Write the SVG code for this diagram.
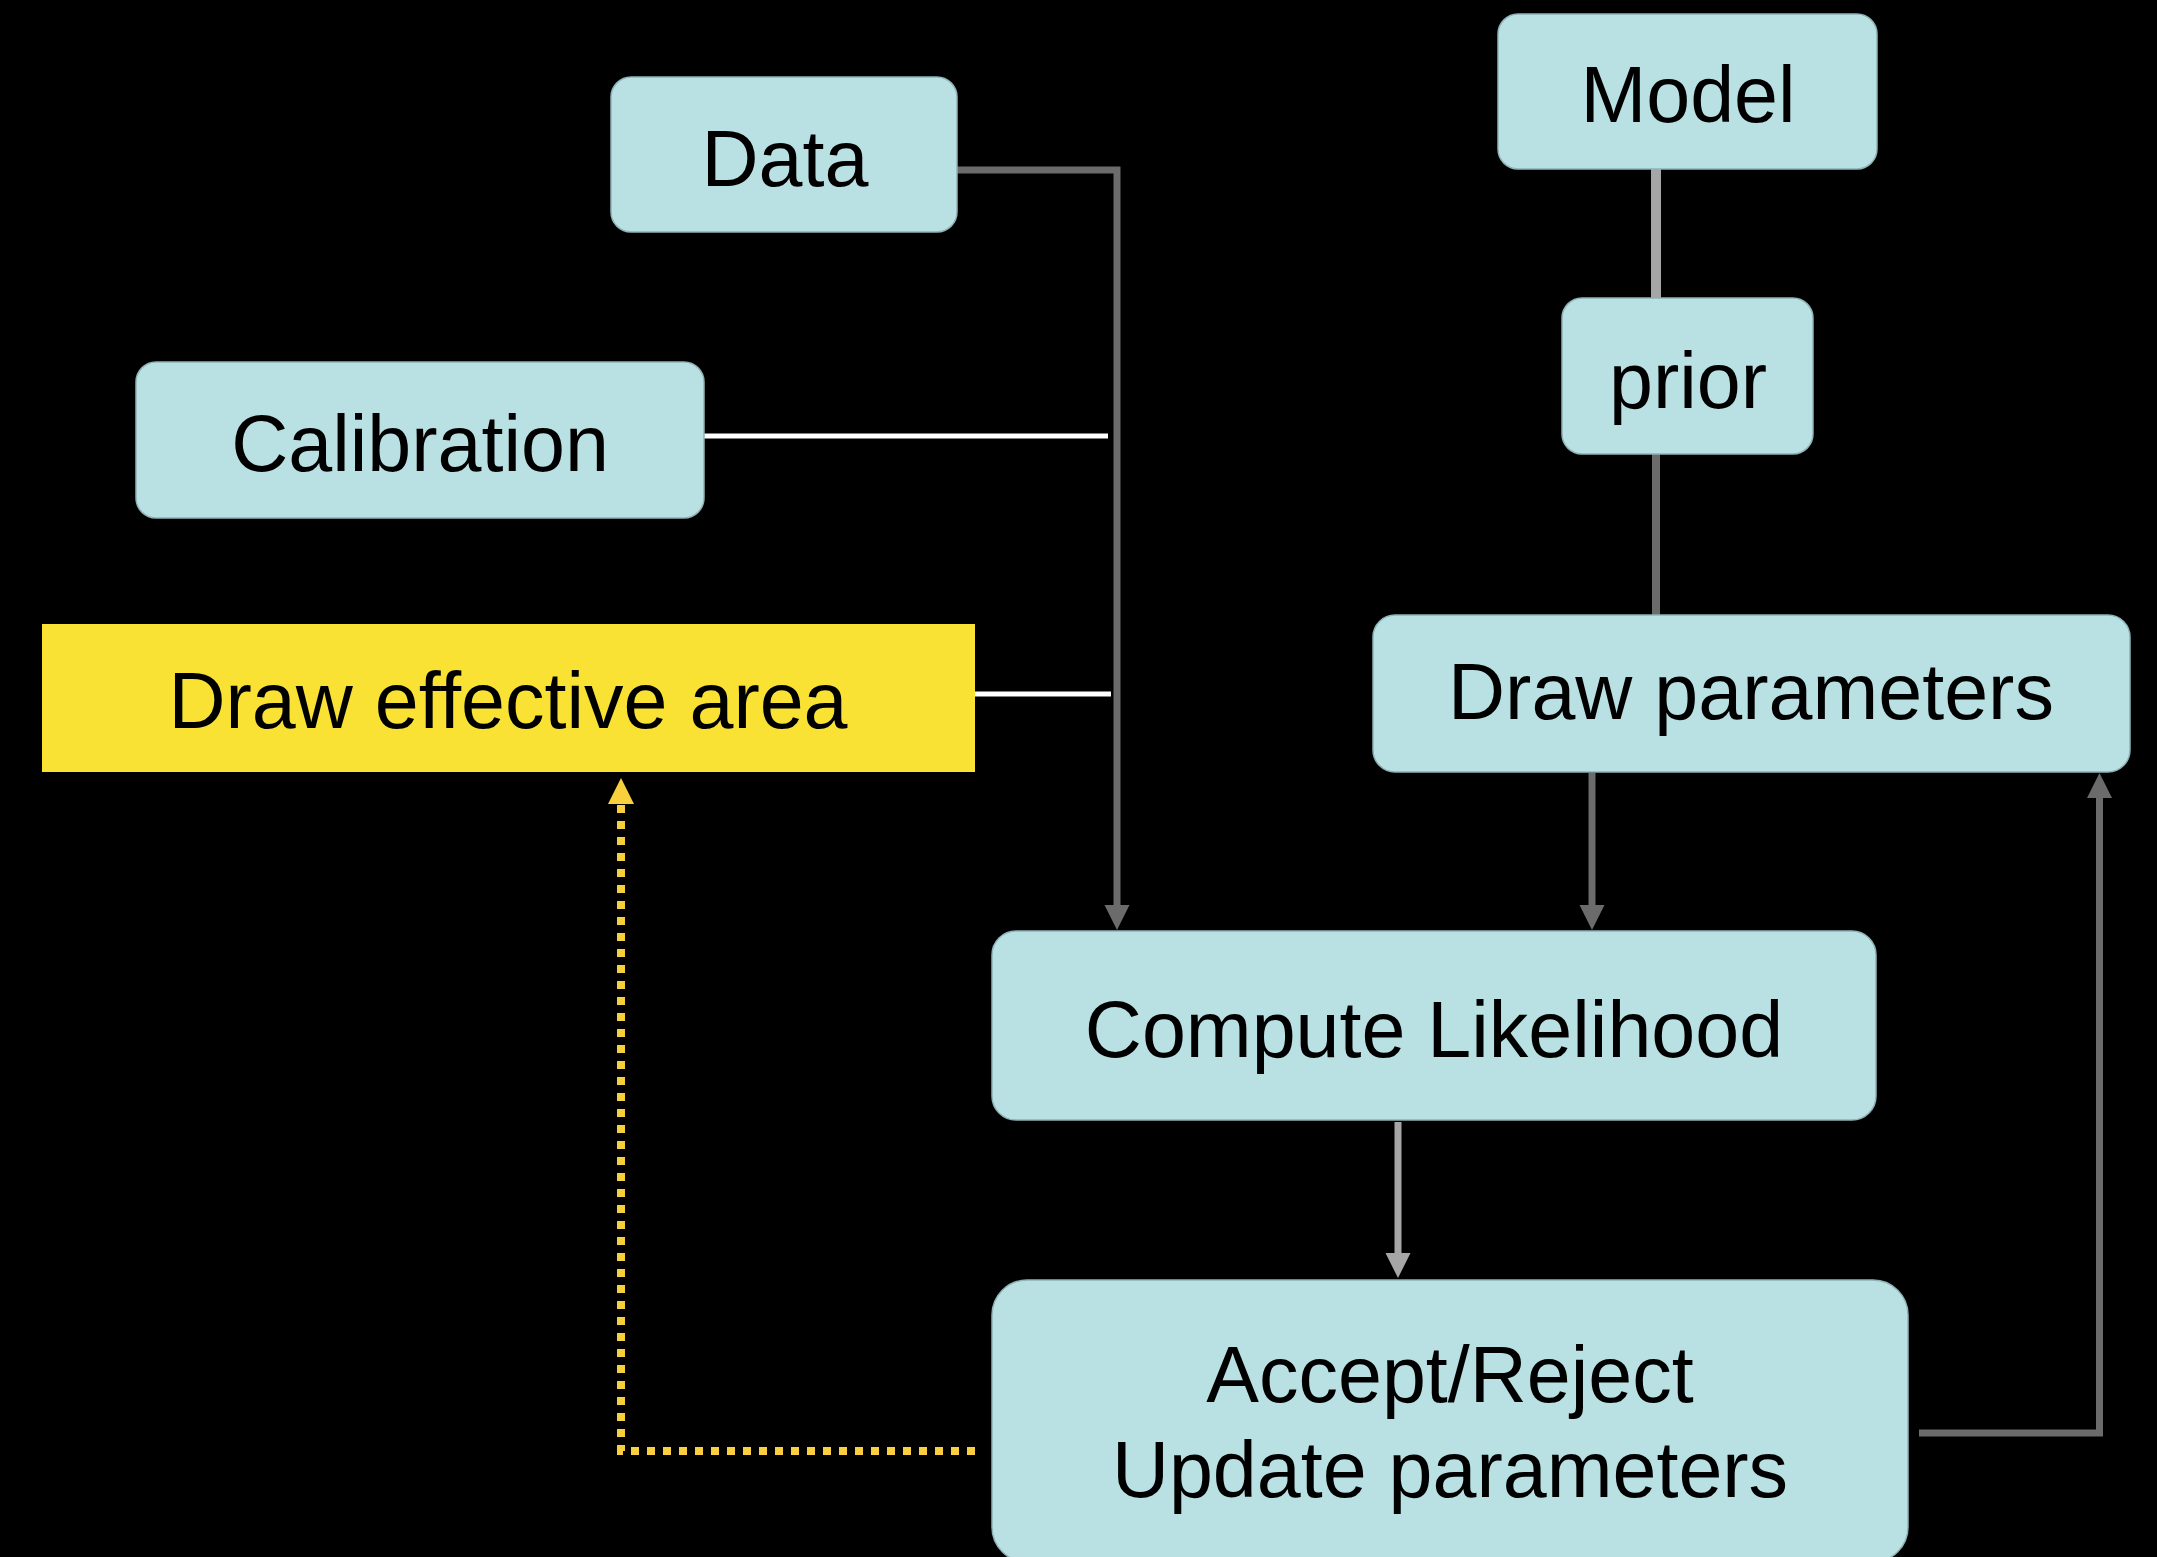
<svg xmlns="http://www.w3.org/2000/svg" width="2157" height="1557" viewBox="0 0 2157 1557">
<style>
.box{fill:#b9e0e3;stroke:#8fb3b6;stroke-width:1.5}
.lbl{font-family:"Liberation Sans",Arial,Helvetica,sans-serif;font-size:79px;fill:#000;text-anchor:middle}
.dk{fill:none;stroke:#6b6b6b;stroke-width:7}
.lt{fill:none;stroke:#a6a6a6;stroke-width:7}
.wh{fill:none;stroke:#ffffff;stroke-width:5}
.yl{fill:none;stroke:#f8cf3c;stroke-width:8;stroke-dasharray:8 8}
</style>
<defs>
<marker id="ahDark" markerUnits="userSpaceOnUse" markerWidth="26" markerHeight="26" refX="0" refY="12.5" orient="auto">
<path d="M0,0 L25,12.5 L0,25 z" fill="#6b6b6b"/>
</marker>
<marker id="ahLight" markerUnits="userSpaceOnUse" markerWidth="26" markerHeight="26" refX="0" refY="12.5" orient="auto">
<path d="M0,0 L25,12.5 L0,25 z" fill="#a6a6a6"/>
</marker>
<marker id="ahYellow" markerUnits="userSpaceOnUse" markerWidth="27" markerHeight="27" refX="0" refY="13" orient="auto">
<path d="M0,0 L26,13 L0,26 z" fill="#f8cf3c"/>
</marker>
</defs>
<rect x="0" y="0" width="2157" height="1557" fill="#000"/>
<g id="connectors">
<polyline class="dk" points="957,170 1117,170 1117,905" marker-end="url(#ahDark)" stroke-linejoin="miter"/>
<line class="wh" x1="704" y1="436" x2="1108" y2="436"/>
<line class="wh" x1="975" y1="694" x2="1111" y2="694"/>
<line x1="1656" y1="169" x2="1656" y2="298" stroke="#a6a6a6" stroke-width="10"/>
<line x1="1656" y1="454" x2="1656" y2="615" stroke="#6b6b6b" stroke-width="8"/>
<line class="dk" x1="1592" y1="773" x2="1592" y2="905" marker-end="url(#ahDark)"/>
<line class="lt" x1="1398" y1="1122" x2="1398" y2="1253" marker-end="url(#ahLight)"/>
<polyline class="dk" points="1919,1433 2099.5,1433 2099.5,798" marker-end="url(#ahDark)" stroke-linejoin="miter"/>
<polyline class="yl" points="975,1451 621,1451 621,804" marker-end="url(#ahYellow)"/>
</g>
<g id="node-data">
<rect class="box" x="611" y="77" width="346" height="155" rx="20"/>
<text class="lbl" x="785" y="186">Data</text>
</g>
<g id="node-model">
<rect class="box" x="1498" y="14" width="379" height="155" rx="20"/>
<text class="lbl" x="1688" y="122">Model</text>
</g>
<g id="node-prior">
<rect class="box" x="1562" y="298" width="251" height="156" rx="20"/>
<text class="lbl" x="1688" y="408">prior</text>
</g>
<g id="node-calibration">
<rect class="box" x="136" y="362" width="568" height="156" rx="20"/>
<text class="lbl" x="420" y="471">Calibration</text>
</g>
<g id="node-effective-area">
<rect x="42" y="624" width="933" height="148" fill="#f9e233"/>
<text class="lbl" x="508" y="728">Draw effective area</text>
</g>
<g id="node-draw-parameters">
<rect class="box" x="1373" y="615" width="757" height="157" rx="22"/>
<text class="lbl" x="1751" y="719">Draw parameters</text>
</g>
<g id="node-compute-likelihood">
<rect class="box" x="992" y="931" width="884" height="189" rx="24"/>
<text class="lbl" x="1434" y="1057">Compute Likelihood</text>
</g>
<g id="node-accept-reject">
<rect class="box" x="992" y="1280" width="916" height="282" rx="35"/>
<text class="lbl" x="1450" y="1402">Accept/Reject</text>
<text class="lbl" x="1450" y="1497">Update parameters</text>
</g>
</svg>
